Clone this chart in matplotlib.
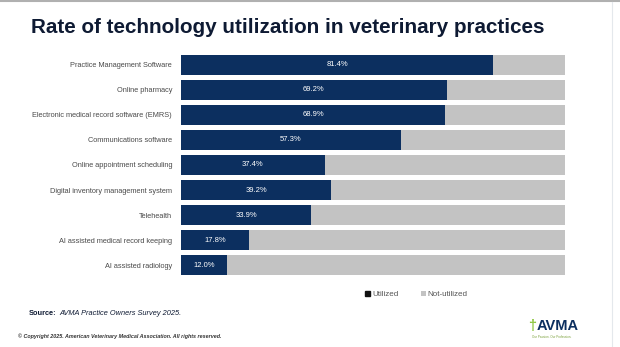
import numpy as np
import matplotlib.pyplot as plt

categories = [
    "Practice Management Software",
    "Online pharmacy",
    "Electronic medical record software (EMRS)",
    "Communications software",
    "Online appointment scheduling",
    "Digital inventory management system",
    "Telehealth",
    "AI assisted medical record keeping",
    "AI assisted radiology",
]
utilized = [81.4, 69.2, 68.9, 57.3, 37.4, 39.2, 33.9, 17.8, 12.0]
not_utilized = [100 - u for u in utilized]

navy = "#0c2f5f"
grey = "#c3c3c3"

plt.rcParams['font.family'] = ['Liberation Sans', 'DejaVu Sans']

fig = plt.figure(figsize=(6.2, 3.47), dpi=100)
ax = fig.add_axes([0.292, 0.200, 0.619, 0.649])

y = np.arange(len(categories))
ax.barh(y, utilized, height=0.8, color=navy, label="Utilized")
ax.barh(y, not_utilized, left=utilized, height=0.8, color=grey, label="Not-utilized")

for yi, v in zip(y, utilized):
    ax.text(v / 2, yi, "{:.1f}%".format(v), ha='center', va='center',
            color='white', fontsize=5.5)

ax.set_xlim(0, 100)
ax.set_ylim(len(categories) - 0.5, -0.5)
ax.set_yticks(y)
ax.set_yticklabels(categories, fontsize=5.3, color="#4a4a4a")
ax.tick_params(axis='y', length=0, pad=6.5)
ax.set_xticks([])
for s in ax.spines.values():
    s.set_visible(False)

leg = ax.legend(loc='center', bbox_to_anchor=(0.613, -0.075), ncol=2, frameon=False,
                fontsize=5.8, handlelength=0.6, handleheight=0.6, columnspacing=2.8,
                handletextpad=0.25, labelcolor="#555555")
leg.legend_handles[0].set_color("#111111")

fig.text(0.05, 0.905, "Rate of technology utilization in veterinary practices",
         fontsize=14.9, fontweight='bold', color="#0e1a33", va='baseline')
fig.text(0.047, 0.097, "Source:", fontsize=5.3, fontweight='bold', color="#0e1a33", va='center')
fig.text(0.095, 0.097, "AVMA Practice Owners Survey 2025.", fontsize=5.3,
         style='italic', color="#0e1a33", va='center')
fig.text(0.029, 0.030, "\u00a9 Copyright 2025. American Veterinary Medical Association. All rights reserved.",
         fontsize=3.85, fontweight='bold', style='italic', color="#333333", va='center')
fig.text(0.899, 0.060, "AVMA", fontsize=10.5, fontweight='bold', color=navy,
         ha='center', va='center')
fig.text(0.858, 0.060, "\u2020", fontsize=10.5, fontweight='bold', color="#8dc63f",
         ha='center', va='center')
fig.text(0.89, 0.030, "Our Passion. Our Profession.", fontsize=2.2, color="#7aa03a",
         ha='center', va='center')

fig.add_artist(plt.Line2D([0, 1], [0.997, 0.997], color="#b0b0b0", lw=1.5))
fig.add_artist(plt.Line2D([0.987, 0.987], [0, 0.995], color="#e4e8ec", lw=0.8))

fig.savefig("out.png", dpi=100)
